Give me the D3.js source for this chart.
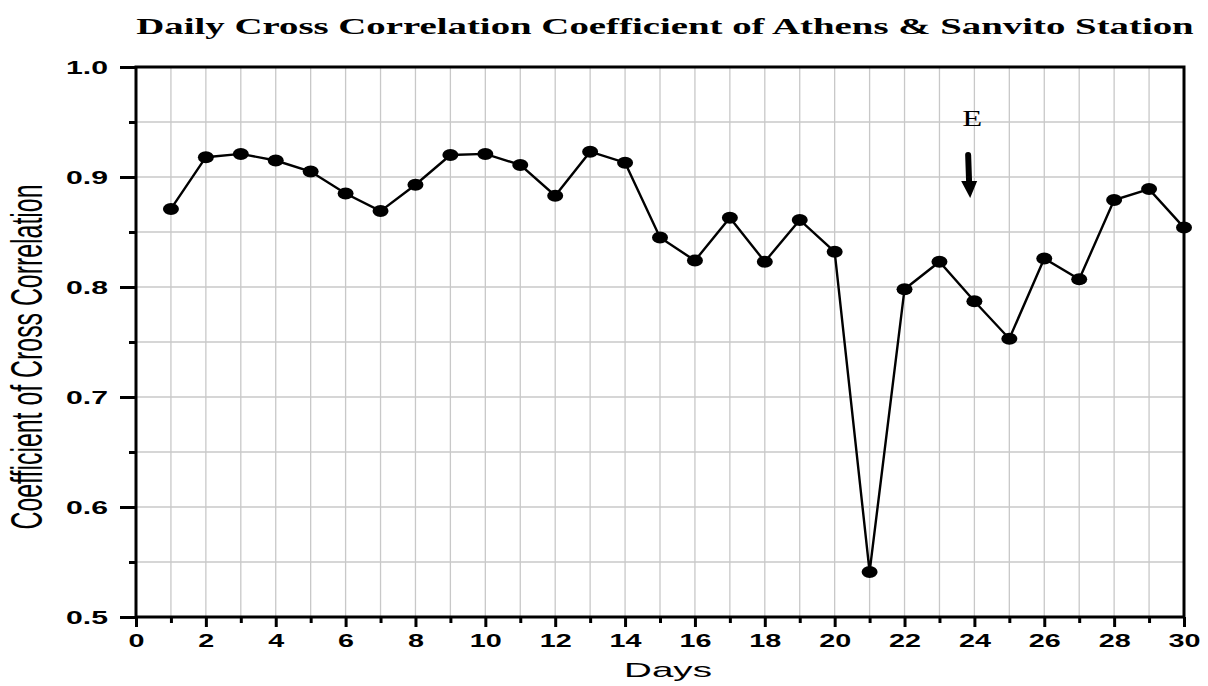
<!DOCTYPE html>
<html><head><meta charset="utf-8">
<script src="https://cdn.jsdelivr.net/npm/d3@7"></script>
<style>body{margin:0;background:#fff}svg{display:block}</style>
</head><body>
<svg id="chart" width="1208" height="686"></svg>
<script>
const days = [1,2,3,4,5,6,7,8,9,10,11,12,13,14,15,16,17,18,19,20,21,22,23,24,25,26,27,28,29,30];
const coeff = [0.871,0.918,0.921,0.915,0.905,0.885,0.869,0.893,0.920,0.921,0.911,0.883,0.923,0.913,0.845,0.824,0.863,0.823,0.861,0.832,0.541,0.798,0.823,0.787,0.753,0.826,0.807,0.879,0.889,0.854];
const xTicks = [0,2,4,6,8,10,12,14,16,18,20,22,24,26,28,30];
const yTicks = [0.5,0.6,0.7,0.8,0.9,1.0];
const titleText = "Daily Cross Correlation Coefficient of Athens & Sanvito Station";
const xLabel = "Days";
const yLabel = "Coefficient of Cross Correlation";
const eventLabel = "E";
const eventDay = 23.85;

const svg = d3.select("#chart");
const L = 136, R = 1184, T = 67, B = 617;
const x = d3.scaleLinear().domain([0,30]).range([L,R]);
const y = d3.scaleLinear().domain([0.5,1.0]).range([B,T]);

// horizontally stretch a text node to a target width (reference is stretched)
function stretch(node, tx, ty, target){
  const w = node.getComputedTextLength();
  const k = target / w;
  d3.select(node).attr("x",0).attr("transform",`translate(${tx},${ty}) scale(${k},1)`);
}

// grid
const g = svg.append("g");
g.selectAll("line.vg").data(d3.range(1,30)).join("line")
  .attr("x1",d=>x(d)).attr("x2",d=>x(d)).attr("y1",T).attr("y2",B)
  .attr("stroke","#c8c8c8").attr("stroke-width",1.3);
g.selectAll("line.hg").data(d3.range(1,10).map(i=>0.5+i*0.05)).join("line")
  .attr("x1",L).attr("x2",R).attr("y1",d=>y(d)).attr("y2",d=>y(d))
  .attr("stroke","#c8c8c8").attr("stroke-width",1.3);

// axes
const xAxis = d3.axisBottom(x).tickValues(xTicks).tickFormat(d3.format("d")).tickSize(10).tickPadding(7);
const xMinor = d3.axisBottom(x).tickValues(d3.range(1,30,2)).tickFormat("").tickSize(6);
const yAxis = d3.axisLeft(y).tickValues(yTicks).tickFormat(d3.format(".1f")).tickSize(16).tickPadding(12);
const yMinor = d3.axisLeft(y).tickValues([0.55,0.65,0.75,0.85,0.95]).tickFormat("").tickSize(7);

function styleAxis(sel){
  sel.select(".domain").remove();
  sel.selectAll("line").attr("stroke","#000").attr("stroke-width",3);
  sel.selectAll("text").attr("fill","#000").style("font-family","'Liberation Sans', Arial, sans-serif").style("font-weight","bold").style("font-size","19px");
}
svg.append("g").attr("transform",`translate(0,${B})`).call(xAxis).call(styleAxis)
  .selectAll("text").each(function(d){ stretch(this, 0, 0, String(d).length*16); });
svg.append("g").attr("transform",`translate(0,${B})`).call(xMinor).call(styleAxis);
svg.append("g").attr("transform",`translate(${L},0)`).call(yAxis).call(styleAxis)
  .selectAll("text").each(function(){ stretch(this, -28, 0, 42); });
svg.append("g").attr("transform",`translate(${L},0)`).call(yMinor).call(styleAxis);

svg.append("rect").attr("x",L).attr("y",T).attr("width",R-L).attr("height",B-T)
  .attr("fill","none").attr("stroke","#000").attr("stroke-width",3);

// line + markers
const line = d3.line().x((d,i)=>x(days[i])).y(d=>y(d));
svg.append("path").datum(coeff).attr("d",line).attr("fill","none").attr("stroke","#000").attr("stroke-width",2.4);
svg.selectAll("ellipse.m").data(coeff).join("ellipse")
  .attr("cx",(d,i)=>x(days[i])).attr("cy",d=>y(d)).attr("rx",8).attr("ry",6).attr("fill","#000");

// title
const tt = svg.append("text").attr("text-anchor","middle")
  .style("font-family","'Liberation Serif','Times New Roman',serif").style("font-weight","bold").style("font-size","24px")
  .text(titleText);
stretch(tt.node(), 665, 34, 1058);

// axis labels
const xl = svg.append("text").attr("text-anchor","middle")
  .style("font-family","'Liberation Sans', Arial, sans-serif").style("font-size","20px").text(xLabel);
stretch(xl.node(), 668, 677, 88);
svg.append("text").attr("transform",`translate(42,357) scale(1.8,1) rotate(-90)`).attr("text-anchor","middle")
  .attr("textLength",345).attr("lengthAdjust","spacingAndGlyphs")
  .style("font-family","'Liberation Sans', Arial, sans-serif").style("font-size","25px")
  .text(yLabel);

// event annotation
const ex = x(eventDay);
const el = svg.append("text").attr("text-anchor","middle")
  .style("font-family","'Liberation Serif','Times New Roman',serif").style("font-size","23px").text(eventLabel);
stretch(el.node(), ex+3, 126, 20);
svg.append("line").attr("x1",ex-1).attr("x2",ex).attr("y1",155).attr("y2",184)
  .attr("stroke","#000").attr("stroke-width",6).attr("stroke-linecap","round");
svg.append("path").attr("d",`M${ex-8},181 L${ex+8},181 L${ex+1},198 Z`).attr("fill","#000");
</script>
</body></html>
